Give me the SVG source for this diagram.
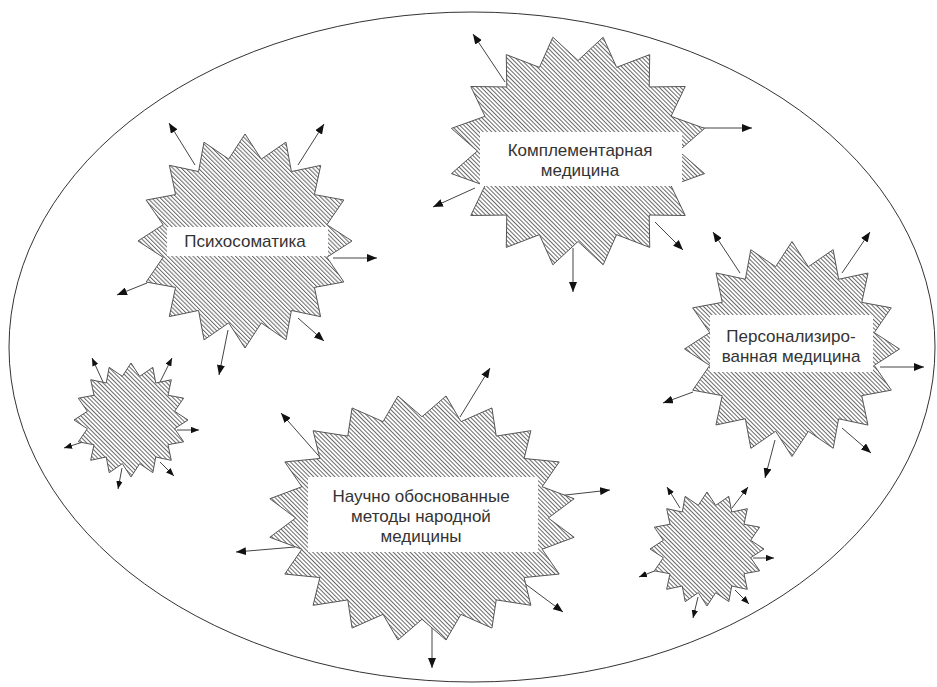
<svg xmlns="http://www.w3.org/2000/svg" xmlns:xlink="http://www.w3.org/1999/xlink" width="937" height="687" viewBox="0 0 937 687">
<defs>
<style>
.lbl{font-family:"Liberation Sans",Arial,sans-serif;font-size:17px;fill:#333;text-anchor:middle}
.box{fill:#fff}
.ar{stroke:#444;stroke-width:1;fill:none;marker-end:url(#ah)}
.ars{stroke:#444;stroke-width:1;fill:none;marker-end:url(#ahs)}
</style>
<marker id="ah" viewBox="0 0 10 8" refX="10" refY="4" markerWidth="10" markerHeight="8" markerUnits="userSpaceOnUse" orient="auto"><path d="M0,0 L10,4 L0,8 Z" fill="#111"/></marker>
<marker id="ahs" viewBox="0 0 10 8" refX="10" refY="4" markerWidth="8" markerHeight="6.4" markerUnits="userSpaceOnUse" orient="auto"><path d="M0,0 L10,4 L0,8 Z" fill="#111"/></marker>
<pattern id="hatch" width="3" height="3" patternUnits="userSpaceOnUse"><rect width="3" height="3" fill="#fff"/><rect width="1" height="3" fill="#6a6a6a"/></pattern>
<pattern id="hA" xlink:href="#hatch" patternTransform="scale(0.775 0.862) rotate(-45)"/>
<pattern id="hB" xlink:href="#hatch" patternTransform="rotate(-11.25) scale(0.935) rotate(-45)"/>
<pattern id="hC" xlink:href="#hatch" patternTransform="rotate(-11.25) scale(0.930) rotate(-45)"/>
<pattern id="hD" xlink:href="#hatch" patternTransform="scale(0.649 0.810) rotate(-45)"/>
<pattern id="hE" xlink:href="#hatch" patternTransform="rotate(-11.25) scale(1.754) rotate(-45)"/>
<path id="s16" vector-effect="non-scaling-stroke" stroke="#555" stroke-width="1" d="M78,0 L98.1,19.5 L72.1,29.9 L83.1,55.6 L55.2,55.2 L55.6,83.1 L29.9,72.1 L19.5,98.1 L0,78 L-19.5,98.1 L-29.9,72.1 L-55.6,83.1 L-55.2,55.2 L-83.1,55.6 L-72.1,29.9 L-98.1,19.5 L-78,0 L-98.1,-19.5 L-72.1,-29.9 L-83.1,-55.6 L-55.2,-55.2 L-55.6,-83.1 L-29.9,-72.1 L-19.5,-98.1 L0,-78 L19.5,-98.1 L29.9,-72.1 L55.6,-83.1 L55.2,-55.2 L83.1,-55.6 L72.1,-29.9 L98.1,-19.5 Z"/>
<path id="s20" vector-effect="non-scaling-stroke" stroke="#555" stroke-width="1" d="M82,0 L98.8,15.6 L78,25.3 L89.1,45.4 L66.3,48.2 L70.7,70.7 L48.2,66.3 L45.4,89.1 L25.3,78 L15.6,98.8 L0,82 L-15.6,98.8 L-25.3,78 L-45.4,89.1 L-48.2,66.3 L-70.7,70.7 L-66.3,48.2 L-89.1,45.4 L-78,25.3 L-98.8,15.6 L-82,0 L-98.8,-15.6 L-78,-25.3 L-89.1,-45.4 L-66.3,-48.2 L-70.7,-70.7 L-48.2,-66.3 L-45.4,-89.1 L-25.3,-78 L-15.6,-98.8 L0,-82 L15.6,-98.8 L25.3,-78 L45.4,-89.1 L48.2,-66.3 L70.7,-70.7 L66.3,-48.2 L89.1,-45.4 L78,-25.3 L98.8,-15.6 Z"/>
</defs>
<rect width="937" height="687" fill="#fff"/>
<ellipse id="field" cx="472" cy="347" rx="463" ry="335" fill="none" stroke="#333" stroke-width="1"/>

<g id="connectors">
<line class="ar" x1="505" y1="82" x2="473" y2="34"/>
<line class="ar" x1="703" y1="128" x2="752" y2="128"/>
<line class="ar" x1="475" y1="188" x2="433" y2="207"/>
<line class="ar" x1="655" y1="222" x2="683" y2="250"/>
<line class="ar" x1="573" y1="248" x2="573" y2="292"/>
<line class="ar" x1="195" y1="165" x2="169" y2="123"/>
<line class="ar" x1="298" y1="165" x2="324" y2="124"/>
<line class="ar" x1="333" y1="258" x2="377" y2="258"/>
<line class="ar" x1="147" y1="283" x2="117" y2="295"/>
<line class="ar" x1="298" y1="318" x2="324" y2="341"/>
<line class="ar" x1="228" y1="330" x2="219" y2="375"/>
<line class="ar" x1="740" y1="273" x2="713" y2="232"/>
<line class="ar" x1="842" y1="273" x2="870" y2="232"/>
<line class="ar" x1="880" y1="367" x2="924" y2="367"/>
<line class="ar" x1="693" y1="392" x2="663" y2="403"/>
<line class="ar" x1="842" y1="428" x2="871" y2="453"/>
<line class="ar" x1="775" y1="440" x2="765" y2="478"/>
<line class="ar" x1="325" y1="463" x2="281" y2="413"/>
<line class="ar" x1="460" y1="417" x2="490" y2="368"/>
<line class="ar" x1="548" y1="497" x2="610" y2="490"/>
<line class="ar" x1="295" y1="547" x2="236" y2="552"/>
<line class="ar" x1="520" y1="580" x2="563" y2="612"/>
<line class="ar" x1="432" y1="627" x2="432" y2="668"/>
<line class="ars" x1="103" y1="382" x2="92" y2="358"/>
<line class="ars" x1="160" y1="382" x2="172" y2="358"/>
<line class="ars" x1="177" y1="430" x2="199" y2="430"/>
<line class="ars" x1="83" y1="442" x2="64" y2="448"/>
<line class="ars" x1="160" y1="462" x2="174" y2="476"/>
<line class="ars" x1="122" y1="468" x2="118" y2="489"/>
<line class="ars" x1="680" y1="508" x2="667" y2="487"/>
<line class="ars" x1="732" y1="508" x2="748" y2="487"/>
<line class="ars" x1="753" y1="558" x2="774" y2="558"/>
<line class="ars" x1="657" y1="570" x2="639" y2="577"/>
<line class="ars" x1="735" y1="590" x2="749" y2="604"/>
<line class="ars" x1="698" y1="597" x2="693" y2="618"/>
</g>

<g id="complementary">
<use xlink:href="#s16" transform="translate(578 151) scale(1.29 1.16)" fill="url(#hA)"/>
<rect class="box" x="480" y="132" width="202" height="54"/>
<text class="lbl" x="580" y="156">Комплементарная</text>
<text class="lbl" x="580" y="176">медицина</text>
</g>

<g id="psychosomatics">
<use xlink:href="#s16" transform="translate(245 241) rotate(11.25) scale(1.07)" fill="url(#hB)"/>
<rect class="box" x="167" y="227" width="161" height="29"/>
<text class="lbl" x="245" y="247">Психосоматика</text>
</g>

<g id="personalized">
<use xlink:href="#s16" transform="translate(792 349) rotate(11.25) scale(1.075)" fill="url(#hC)"/>
<rect class="box" x="710" y="315" width="163" height="57"/>
<text class="lbl" x="791" y="342">Персонализиро-</text>
<text class="lbl" x="791" y="362">ванная медицина</text>
</g>

<g id="folk">
<use xlink:href="#s20" transform="translate(422 518) scale(1.54 1.235)" fill="url(#hD)"/>
<rect class="box" x="308" y="477" width="230" height="75"/>
<text class="lbl" x="421" y="502">Научно обоснованные</text>
<text class="lbl" x="421" y="522">методы народной</text>
<text class="lbl" x="421" y="542">медицины</text>
</g>

<g id="small-left">
<use xlink:href="#s16" transform="translate(131 420) rotate(11.25) scale(0.57)" fill="url(#hE)"/>
</g>

<g id="small-right">
<use xlink:href="#s16" transform="translate(707 549) rotate(11.25) scale(0.57)" fill="url(#hE)"/>
</g>
</svg>
